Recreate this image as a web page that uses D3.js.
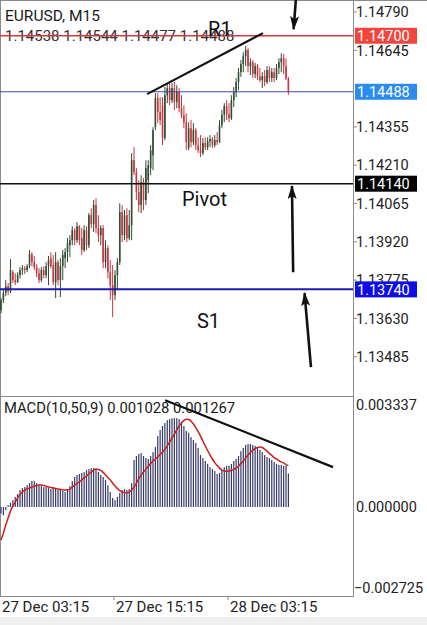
<!DOCTYPE html>
<html>
<head>
<meta charset="utf-8">
<script src="https://d3js.org/d3.v7.min.js"></script>
<style>
  html, body { margin: 0; padding: 0; background: #fff; }
  svg { display: block; font-family: Roboto, "Noto Sans", sans-serif; }
</style>
</head>
<body>
<div class="chart"></div>
<script>
// EURUSD M15 bars, 27 Dec 03:15 onward
const opens = [1.13661,1.13699,1.13726,1.13752,1.13733,1.13805,1.13775,1.13767,1.13794,1.13813,1.13820,1.13813,1.13828,1.13873,1.13843,1.13824,1.13801,1.13775,1.13813,1.13794,1.13828,1.13858,1.13832,1.13767,1.13843,1.13775,1.13828,1.13858,1.13881,1.13907,1.13926,1.13964,1.13926,1.13979,1.13934,1.13889,1.13964,1.13907,1.14021,1.13987,1.14059,1.13972,1.13945,1.13972,1.13843,1.13896,1.13805,1.13756,1.13718,1.13794,1.13843,1.14032,1.13945,1.14021,1.13934,1.13983,1.14229,1.14184,1.14108,1.14059,1.14146,1.14078,1.14153,1.14199,1.14248,1.14354,1.14464,1.14411,1.14437,1.14313,1.14475,1.14502,1.14456,1.14502,1.14449,1.14487,1.14426,1.14400,1.14373,1.14275,1.14350,1.14297,1.14343,1.14286,1.14267,1.14256,1.14294,1.14278,1.14301,1.14309,1.14286,1.14305,1.14297,1.14362,1.14400,1.14434,1.14403,1.14388,1.14456,1.14487,1.14525,1.14562,1.14593,1.14623,1.14646,1.14585,1.14600,1.14555,1.14585,1.14547,1.14532,1.14547,1.14525,1.14570,1.14540,1.14562,1.14540,1.14578,1.14600,1.14615,1.14585,1.14538];
const highs = [1.13707,1.13741,1.13775,1.13764,1.13854,1.13813,1.13801,1.13805,1.13824,1.13832,1.13828,1.13835,1.13889,1.13881,1.13866,1.13835,1.13820,1.13824,1.13828,1.13843,1.13866,1.13881,1.13870,1.13881,1.13851,1.13858,1.13889,1.13896,1.13934,1.13945,1.13979,1.13972,1.13995,1.13983,1.13972,1.13983,1.13979,1.14029,1.14047,1.14078,1.14085,1.14021,1.13983,1.13983,1.13926,1.13907,1.13851,1.13832,1.13813,1.13858,1.14066,1.14059,1.14040,1.14047,1.14040,1.14256,1.14278,1.14199,1.14153,1.14172,1.14161,1.14229,1.14229,1.14286,1.14354,1.14483,1.14483,1.14468,1.14468,1.14506,1.14521,1.14521,1.14521,1.14525,1.14513,1.14502,1.14475,1.14437,1.14407,1.14373,1.14381,1.14369,1.14350,1.14316,1.14324,1.14313,1.14316,1.14316,1.14324,1.14316,1.14324,1.14335,1.14381,1.14419,1.14445,1.14456,1.14445,1.14475,1.14506,1.14540,1.14578,1.14608,1.14638,1.14661,1.14653,1.14615,1.14608,1.14597,1.14593,1.14578,1.14562,1.14570,1.14585,1.14585,1.14578,1.14578,1.14593,1.14615,1.14634,1.14631,1.14615,1.14544];
const lows = [1.13650,1.13688,1.13714,1.13718,1.13726,1.13764,1.13756,1.13764,1.13782,1.13794,1.13798,1.13805,1.13820,1.13828,1.13813,1.13786,1.13764,1.13767,1.13782,1.13782,1.13756,1.13820,1.13756,1.13707,1.13756,1.13711,1.13775,1.13820,1.13843,1.13862,1.13907,1.13907,1.13915,1.13907,1.13870,1.13881,1.13889,1.13896,1.13972,1.13957,1.13953,1.13919,1.13907,1.13820,1.13820,1.13782,1.13699,1.13635,1.13699,1.13737,1.13832,1.13919,1.13926,1.13919,1.13926,1.13926,1.14172,1.14078,1.14032,1.14029,1.14040,1.14059,1.14104,1.14172,1.14191,1.14343,1.14369,1.14362,1.14286,1.14305,1.14445,1.14437,1.14445,1.14419,1.14426,1.14411,1.14388,1.14350,1.14267,1.14267,1.14278,1.14286,1.14267,1.14256,1.14241,1.14248,1.14267,1.14267,1.14278,1.14275,1.14278,1.14286,1.14294,1.14350,1.14373,1.14381,1.14373,1.14381,1.14430,1.14468,1.14494,1.14544,1.14562,1.14585,1.14562,1.14551,1.14540,1.14540,1.14532,1.14525,1.14502,1.14509,1.14517,1.14525,1.14525,1.14525,1.14532,1.14555,1.14562,1.14555,1.14532,1.14477];
const closes = [1.13699,1.13726,1.13752,1.13733,1.13813,1.13775,1.13767,1.13794,1.13813,1.13820,1.13813,1.13828,1.13873,1.13843,1.13824,1.13801,1.13775,1.13813,1.13794,1.13828,1.13851,1.13828,1.13767,1.13843,1.13775,1.13828,1.13870,1.13881,1.13915,1.13926,1.13964,1.13926,1.13979,1.13926,1.13889,1.13964,1.13907,1.14021,1.13987,1.14059,1.13972,1.13945,1.13972,1.13843,1.13896,1.13805,1.13756,1.13718,1.13794,1.13843,1.14032,1.13945,1.14021,1.13934,1.13983,1.14229,1.14184,1.14108,1.14059,1.14146,1.14078,1.14199,1.14210,1.14267,1.14343,1.14464,1.14411,1.14381,1.14313,1.14475,1.14502,1.14456,1.14502,1.14449,1.14487,1.14426,1.14400,1.14373,1.14297,1.14350,1.14297,1.14343,1.14286,1.14267,1.14256,1.14294,1.14278,1.14301,1.14309,1.14286,1.14305,1.14297,1.14362,1.14400,1.14434,1.14403,1.14388,1.14456,1.14487,1.14525,1.14562,1.14593,1.14623,1.14646,1.14585,1.14600,1.14555,1.14585,1.14547,1.14532,1.14547,1.14525,1.14570,1.14540,1.14562,1.14540,1.14578,1.14600,1.14615,1.14585,1.14538,1.14488];

// MACD(10,50,9) histogram and signal line
const macdHist = [-0.0002,-0.00025,-0.0001,0.00006,0.00013,0.00021,0.00031,0.0004,0.00052,0.00058,0.00061,0.00067,0.00073,0.0008,0.0008,0.00073,0.00067,0.00064,0.00061,0.00061,0.00058,0.00055,0.00061,0.00058,0.00052,0.00052,0.00049,0.00046,0.00055,0.00064,0.0008,0.00092,0.00098,0.00101,0.00104,0.00107,0.00113,0.00116,0.00119,0.00119,0.00116,0.00107,0.00098,0.00092,0.00083,0.00067,0.00046,0.00028,0.00021,0.00031,0.00043,0.00052,0.00055,0.00052,0.00055,0.00073,0.00144,0.00156,0.00162,0.00165,0.00156,0.0015,0.00147,0.00156,0.00168,0.00184,0.00217,0.00236,0.00248,0.00257,0.00266,0.00269,0.00272,0.00272,0.00272,0.00269,0.0026,0.00248,0.00233,0.00227,0.00214,0.00205,0.00196,0.00181,0.00159,0.0015,0.00141,0.00132,0.00122,0.00116,0.0011,0.00101,0.00104,0.00113,0.00122,0.00126,0.00126,0.00132,0.00141,0.00147,0.00156,0.00171,0.00181,0.0019,0.00193,0.00193,0.0019,0.00187,0.00181,0.00175,0.00168,0.00159,0.00153,0.0015,0.00144,0.00138,0.00132,0.00129,0.00129,0.00126,0.00126,0.001028];
const macdSignal = [-0.00101,-0.0008,-0.00055,-0.00034,-0.00012,0.00003,0.00015,0.00028,0.00037,0.00046,0.00052,0.00055,0.00058,0.00061,0.00064,0.00066,0.00067,0.00067,0.00066,0.00064,0.00061,0.0006,0.00058,0.00057,0.00055,0.00054,0.00052,0.00052,0.00052,0.00055,0.00061,0.00067,0.00072,0.00077,0.00083,0.00089,0.00095,0.00101,0.00107,0.00113,0.00116,0.00115,0.00112,0.00106,0.00098,0.0009,0.00083,0.00073,0.00064,0.00057,0.0005,0.00046,0.00044,0.00043,0.00046,0.00052,0.00061,0.00073,0.00086,0.00098,0.00107,0.00116,0.00125,0.00133,0.00141,0.00147,0.00153,0.00161,0.00168,0.00177,0.00187,0.00199,0.00211,0.00223,0.00236,0.00248,0.00257,0.00265,0.00269,0.00268,0.00263,0.00254,0.00243,0.00231,0.00217,0.00202,0.00187,0.00173,0.00159,0.00147,0.00136,0.00127,0.00119,0.00113,0.0011,0.00109,0.0011,0.00112,0.00115,0.00119,0.00125,0.00133,0.00141,0.0015,0.00159,0.00167,0.00174,0.00179,0.00182,0.00184,0.00182,0.00177,0.00171,0.00164,0.00158,0.00151,0.00147,0.00142,0.00138,0.00135,0.0013,0.001267];

const priceTicks = [1.14790, 1.14645, 1.14355, 1.14210, 1.14065, 1.13920, 1.13775, 1.13630, 1.13485];
const macdTicks = [0.003337, 0.000000, -0.002725];
const timeTicks = [{bar: 0, label: "27 Dec 03:15"}, {bar: 48, label: "27 Dec 15:15"}, {bar: 96, label: "28 Dec 03:15"}];

const levelPrices = [1.14700, 1.14488, 1.14140, 1.13740];
const levelColors = ["#d9363e", "#3d4aa8", "#111111", "#1d1db0"];
const levelBoxColors = ["#f2453d", "#2a8cf0", "#000000", "#0d0de8"];
const levelWidths = [1.3, 1, 1.6, 2];

const levelNames = [{text: "R1", bar: 87.2, price: 1.14699}, {text: "Pivot", bar: 76.2, price: 1.14055}, {text: "S1", bar: 82.5, price: 1.13593}];
// hand drawn marks: [bar, value] pairs
const priceTrend = [[61.5, 1.14479], [110.3, 1.14710]];
const arrows = [
  [[124.2, 1.14843], [123.2, 1.14725]],
  [[123.0, 1.13805], [122.5, 1.14131]],
  [[130.5, 1.13446], [127.8, 1.13726]]
];
const macdTrend = [[69.1, 0.00327], [139.8, 0.00122]];

const dimensions = {
  width: 427,
  height: 625,
  plotRight: 353,
  main: {top: 0, bottom: 395},
  macd: {top: 398, bottom: 596}
};

const svg = d3.select(".chart").append("svg")
  .attr("width", dimensions.width)
  .attr("height", dimensions.height);

const nBars = closes.length;
const x = d3.scaleLinear().domain([0, 148.2]).range([1, dimensions.plotRight]);
const y = d3.scaleLinear().domain([1.133401, 1.148354]).range([dimensions.main.bottom, dimensions.main.top]);
const ym = d3.scaleLinear().domain([-0.002725, 0.003337]).range([dimensions.macd.bottom, dimensions.macd.top]);

const fmt5 = d3.format(".5f");
const fmt6 = d3.format(".6f");

// bottom grey strip
svg.append("rect").attr("x", 0).attr("y", 617).attr("width", dimensions.width).attr("height", 8).attr("fill", "#efefef");

// frame lines
const frame = svg.append("g").attr("stroke", "#8a8a8a").attr("stroke-width", 1).attr("fill", "none");
frame.append("line").attr("x1", 0).attr("x2", dimensions.width).attr("y1", 0.5).attr("y2", 0.5);
frame.append("line").attr("x1", 0.5).attr("x2", 0.5).attr("y1", 0).attr("y2", dimensions.macd.bottom);
frame.append("line").attr("x1", dimensions.plotRight + 0.5).attr("x2", dimensions.plotRight + 0.5).attr("y1", 0).attr("y2", dimensions.macd.bottom);
frame.append("line").attr("x1", 0).attr("x2", dimensions.plotRight).attr("y1", 396.5).attr("y2", 396.5);
frame.append("line").attr("x1", 0).attr("x2", dimensions.plotRight + 1).attr("y1", dimensions.macd.bottom + 0.5).attr("y2", dimensions.macd.bottom + 0.5);

// candles
const candles = svg.append("g")
  .selectAll("g")
  .data(d3.range(nBars))
  .join("g")
  .attr("fill", i => closes[i] >= opens[i] ? "#2f4f33" : "#cc3440");

candles.append("rect")
  .attr("x", i => x(i) - 0.5)
  .attr("width", 1)
  .attr("y", i => y(highs[i]))
  .attr("height", i => Math.max(1, y(lows[i]) - y(highs[i])));

candles.append("rect")
  .attr("x", i => x(i) - 0.8)
  .attr("width", 1.6)
  .attr("y", i => y(Math.max(opens[i], closes[i])))
  .attr("height", i => Math.max(1, Math.abs(y(opens[i]) - y(closes[i]))));

// header text
svg.append("text").attr("x", 5).attr("y", 21).attr("font-size", 15.5).attr("fill", "#1a1a1a").text("EURUSD, M15");
svg.append("text").attr("x", 5).attr("y", 41).attr("font-size", 15).attr("fill", "#333")
  .text(`${fmt5(opens[nBars - 1])} ${fmt5(highs[nBars - 1])} ${fmt5(lows[nBars - 1])} ${fmt5(closes[nBars - 1])}`);

// horizontal levels
svg.append("g")
  .selectAll("line")
  .data(levelPrices)
  .join("line")
  .attr("x1", 0)
  .attr("x2", dimensions.plotRight)
  .attr("y1", d => y(d))
  .attr("y2", d => y(d))
  .attr("stroke", (d, i) => levelColors[i])
  .attr("stroke-width", (d, i) => levelWidths[i]);

// price axis
const axisR = svg.append("g").attr("font-size", 14.5).attr("fill", "#222");
axisR.selectAll("line")
  .data(priceTicks)
  .join("line")
  .attr("x1", dimensions.plotRight)
  .attr("x2", dimensions.plotRight + 4)
  .attr("y1", d => y(d))
  .attr("y2", d => y(d))
  .attr("stroke", "#8a8a8a");
axisR.selectAll("text")
  .data(priceTicks)
  .join("text")
  .attr("x", dimensions.plotRight + 3)
  .attr("y", d => y(d))
  .attr("dy", "0.36em")
  .text(d => fmt5(d));

// level price boxes
const boxes = svg.append("g")
  .selectAll("g")
  .data(levelPrices)
  .join("g")
  .attr("transform", d => `translate(${dimensions.plotRight + 2},${y(d)})`);
boxes.append("rect")
  .attr("x", 0).attr("y", -8).attr("width", 62).attr("height", 16)
  .attr("fill", (d, i) => levelBoxColors[i]);
boxes.append("text")
  .attr("x", 2).attr("dy", "0.36em")
  .attr("font-size", 14.5).attr("fill", "#fff")
  .text(d => fmt5(d));

// level names
svg.append("g")
  .selectAll("text")
  .data(levelNames)
  .join("text")
  .attr("x", d => x(d.bar))
  .attr("y", d => y(d.price))
  .attr("font-size", 20)
  .attr("fill", "#111")
  .text(d => d.text);

// drawn trendline and arrows
const pline = d3.line().x(d => x(d[0])).y(d => y(d[1]));
svg.append("path").attr("d", pline(priceTrend)).attr("stroke", "#111").attr("stroke-width", 2.2).attr("fill", "none");

svg.append("defs").append("marker")
  .attr("id", "head")
  .attr("viewBox", "0 0 14 9")
  .attr("refX", 13).attr("refY", 4.5)
  .attr("markerUnits", "userSpaceOnUse")
  .attr("markerWidth", 14).attr("markerHeight", 9)
  .attr("orient", "auto")
  .append("path").attr("d", "M0,0L14,4.5L0,9L3,4.5Z").attr("fill", "#111");

svg.append("g")
  .selectAll("path")
  .data(arrows)
  .join("path")
  .attr("d", d => pline(d))
  .attr("stroke", "#111")
  .attr("stroke-width", 2.6)
  .attr("fill", "none")
  .attr("marker-end", "url(#head)");

// MACD panel
svg.append("g")
  .selectAll("rect")
  .data(d3.range(nBars))
  .join("rect")
  .attr("x", i => x(i) - 0.6)
  .attr("width", 1.2)
  .attr("y", i => Math.min(ym(macdHist[i]), ym(0)))
  .attr("height", i => Math.abs(ym(macdHist[i]) - ym(0)))
  .attr("fill", "#363a66");

svg.append("path")
  .attr("d", d3.line().x((d, i) => x(i)).y(d => ym(d)).curve(d3.curveMonotoneX)(macdSignal))
  .attr("stroke", "#cc1f1f")
  .attr("stroke-width", 1.5)
  .attr("fill", "none");

svg.append("path")
  .attr("d", d3.line().x(d => x(d[0])).y(d => ym(d[1]))(macdTrend))
  .attr("stroke", "#111")
  .attr("stroke-width", 2.2)
  .attr("fill", "none");

svg.append("text").attr("x", 4).attr("y", 413).attr("font-size", 14.8).attr("fill", "#1a1a1a")
  .text(`MACD(10,50,9) ${fmt6(macdHist[nBars - 1])} ${fmt6(macdSignal[nBars - 1])}`);

const macdAxis = svg.append("g").attr("font-size", 14.5).attr("fill", "#222");
macdAxis.selectAll("text")
  .data(macdTicks)
  .join("text")
  .attr("x", d => d < 0 ? dimensions.plotRight + 1 : dimensions.plotRight + 3)
  .attr("y", d => ym(d) + (d === macdTicks[0] ? 7 : d === macdTicks[2] ? -8 : 0))
  .attr("dy", "0.36em")
  .text(d => fmt6(d));

// time axis
const timeAxis = svg.append("g");
timeAxis.selectAll("line")
  .data(timeTicks.slice(1))
  .join("line")
  .attr("x1", d => x(d.bar) - 1).attr("x2", d => x(d.bar) - 1)
  .attr("y1", dimensions.macd.bottom).attr("y2", dimensions.macd.bottom + 4)
  .attr("stroke", "#8a8a8a");
timeAxis.selectAll("text")
  .data(timeTicks)
  .join("text")
  .attr("x", d => x(d.bar) + 1)
  .attr("y", 612)
  .attr("font-size", 15)
  .attr("fill", "#222")
  .text(d => d.label);
</script>
</body>
</html>
